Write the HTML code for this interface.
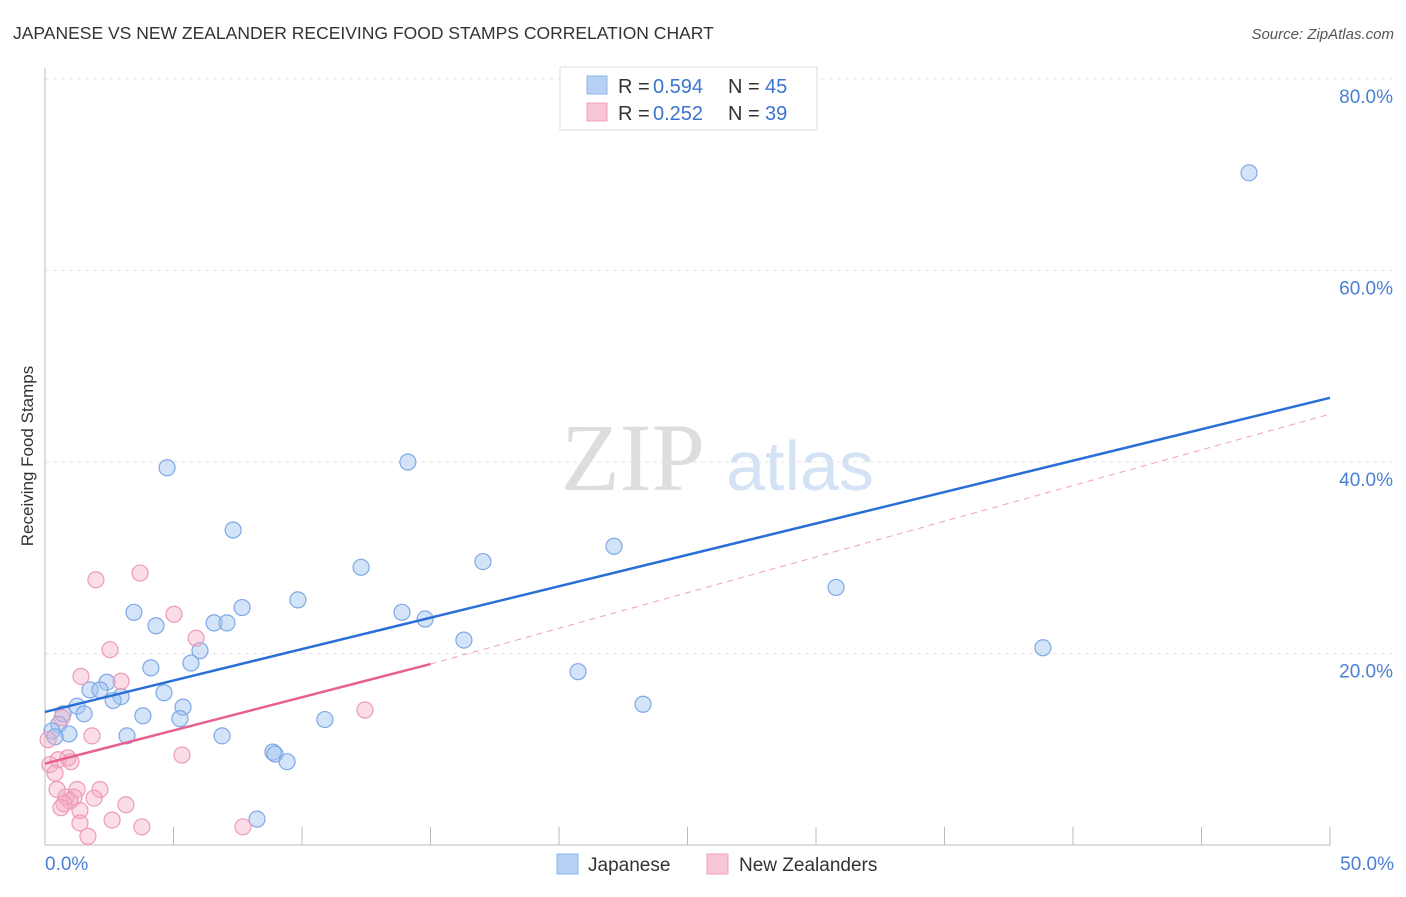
<!DOCTYPE html>
<html><head><meta charset="utf-8"><style>
body{margin:0;background:#fff;width:1406px;height:892px;overflow:hidden;font-family:"Liberation Sans",sans-serif}
</style></head><body>
<svg id="chart" width="1406" height="892" xmlns="http://www.w3.org/2000/svg">
<text x="13" y="39" font-size="17.5" fill="#333">JAPANESE VS NEW ZEALANDER RECEIVING FOOD STAMPS CORRELATION CHART</text>
<text x="1394" y="39" font-size="15" fill="#555" font-style="italic" text-anchor="end">Source: ZipAtlas.com</text>
<text transform="translate(33,456) rotate(-90)" font-size="17" fill="#333" text-anchor="middle">Receiving Food Stamps</text>
<g>
<text x="633" y="490" font-size="96" fill="#ddd" font-family="Liberation Serif" text-anchor="middle">ZIP</text>
<text x="800" y="490" font-size="70" fill="#d4e2f5" text-anchor="middle">atlas</text>
</g>
<g id="grid"></g><g id="axes"></g><g id="pts"></g><g id="lines"></g>
<g>
<rect x="560" y="67" width="257" height="63" fill="#fff" stroke="#ddd"/>
<rect x="587" y="76" width="20" height="18" fill="#b6d0f5" stroke="#8fb4e8"/>
<rect x="587" y="103" width="20" height="18" fill="#f9c6d6" stroke="#f0a0bb"/>
<text x="618" y="93" font-size="20" fill="#333">R =</text>
<text x="653" y="93" font-size="20" fill="#3a75d0">0.594</text>
<text x="728" y="93" font-size="20" fill="#333">N =</text>
<text x="765" y="93" font-size="20" fill="#3a75d0">45</text>
<text x="618" y="120" font-size="20" fill="#333">R =</text>
<text x="653" y="120" font-size="20" fill="#3a75d0">0.252</text>
<text x="728" y="120" font-size="20" fill="#333">N =</text>
<text x="765" y="120" font-size="20" fill="#3a75d0">39</text>
</g>
<g>
<rect x="557" y="854" width="21" height="20" fill="#b6d0f5" stroke="#8fb4e8"/>
<text x="588" y="871" font-size="19" fill="#333">Japanese</text>
<rect x="707" y="854" width="21" height="20" fill="#f9c6d6" stroke="#f0a0bb"/>
<text x="739" y="871" font-size="19" fill="#333">New Zealanders</text>
</g>
</svg>
<script>
const yTicks=[20,40,60,80];
const yTickLabels=["20.0%","40.0%","60.0%","80.0%"];
const xTickLabels=["0.0%","50.0%"];
const japX=[46.85,4.75,14.12,7.32,22.14,17.04,12.30,30.78,9.84,3.46,7.67,13.89,14.79,4.32,6.58,7.08,16.30,6.03,38.83,5.68,4.12,20.74,2.41,1.75,2.14,4.63,2.96,2.65,23.27,1.25,5.37,0.70,1.52,3.81,5.25,10.89,0.54,0.27,0.93,0.39,3.19,6.89,8.87,8.95,9.42,8.25];
const japY=[70.2,39.4,40.0,32.9,31.2,29.6,29.0,26.9,25.6,24.3,24.8,24.3,23.6,22.9,23.2,23.2,21.4,20.3,20.6,19.0,18.5,18.1,17.0,16.2,16.2,15.9,15.5,15.1,14.7,14.5,14.4,13.7,13.7,13.5,13.2,13.1,12.6,11.9,11.6,11.3,11.4,11.4,9.7,9.5,8.7,2.7];
const nzX=[3.70,1.98,5.02,5.88,2.53,1.40,2.96,12.45,0.66,1.83,5.33,0.89,0.51,1.01,0.19,0.39,2.14,1.25,0.47,0.82,1.13,1.91,0.97,0.74,0.62,3.15,1.36,2.61,1.36,3.77,7.70,1.67,0.12];
const nzY=[28.4,27.7,24.1,21.6,20.4,17.6,17.1,14.1,13.3,11.4,9.4,9.1,8.9,8.7,8.4,7.5,5.8,5.8,5.8,5.0,5.0,4.9,4.6,4.3,3.9,4.2,3.6,2.6,2.3,1.9,1.9,0.9,11.0];
const japLine=[[0,13.9],[50,46.7]];
const nzLine=[[0,8.5],[15,18.9]];
const nzDash=[[15,18.9],[50,45.0]];
const NS="http://www.w3.org/2000/svg";
const X=v=>45+v*25.7, Y=v=>845-v*9.575;
function mk(t,a,p){const e=document.createElementNS(NS,t);for(const k in a)e.setAttribute(k,a[k]);document.getElementById(p).appendChild(e);return e;}
yTicks.forEach((t,i)=>{
 const l=mk('line',{x1:45,x2:1394,y1:Y(t),y2:Y(t),stroke:'#e4e4e4','stroke-dasharray':'4,4'},'grid');
 
 
 const tx=mk('text',{x:1393,y:Y(t)+24,'font-size':19,fill:'#4a7fd4','text-anchor':'end'},'axes');
 tx.textContent=yTickLabels[i];
 
 
});
const topGrid=mk('line',{x1:45,x2:1394,y1:79,y2:79,stroke:'#e4e4e4','stroke-dasharray':'4,4'},'grid');


const ya=mk('line',{x1:45,x2:45,y1:68,y2:845,stroke:'#bbb'},'axes');


const xa=mk('line',{x1:45,x2:1330,y1:845,y2:845,stroke:'#bbb'},'axes');


for(let v=5;v<=50;v+=5){const t=mk('line',{x1:X(v),x2:X(v),y1:827,y2:845,stroke:'#bbb'},'axes');
 
 }
[[0,'start'],[50,'end']].forEach((p,i)=>{const t=mk('text',{x:i?1394:45,y:870,'font-size':19,fill:'#4a7fd4','text-anchor':p[1]},'axes');t.textContent=xTickLabels[i];
 
 });
japX.forEach((x,i)=>{const c=mk('circle',{cx:X(x),cy:Y(japY[i]),r:8,fill:'rgba(160,195,240,0.45)',stroke:'#7fa8e6','stroke-width':1.2},'pts');
 
 });
nzX.forEach((x,i)=>{const c=mk('circle',{cx:X(x),cy:Y(nzY[i]),r:8,fill:'rgba(245,170,195,0.4)',stroke:'#ee9ab6','stroke-width':1.2},'pts');
 
 });
function ln(d,st,w,da,name){const l=mk('line',{x1:X(d[0][0]),y1:Y(d[0][1]),x2:X(d[1][0]),y2:Y(d[1][1]),stroke:st,'stroke-width':w},'lines');if(da)l.setAttribute('stroke-dasharray',da);
 
 }
ln(nzDash,'#eea0b8',1,'6,5','nz-trend-extension');
ln(japLine,'#2a6fd6',2.5,null,'japanese-trend-line');
ln(nzLine,'#e8608d',2.5,null,'nz-trend-line');
</script>
</body></html>
